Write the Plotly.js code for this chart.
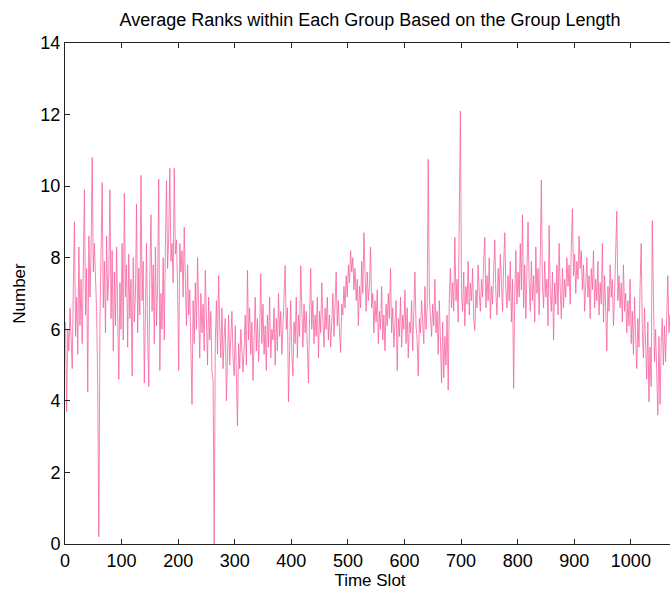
<!DOCTYPE html>
<html>
<head>
<meta charset="utf-8">
<script src="https://cdn.plot.ly/plotly-3.0.1.min.js"></script>
<style>
html,body{margin:0;padding:0;overflow:hidden;background:#fff;}
#chart{width:680px;height:593px;}
</style>
</head>
<body>
<div id="chart"></div>
<script>
// Time slots: first slot and spacing of the sampled series
const firstSlot = 1;
const slotStep = 1.96;

const ranks_0_99 = [6.2,3.7,6.0,5.4,6.6,5.6,4.9,7.2,9.0,5.8,6.9,5.3,8.3,6.1,7.4,5.6,8.0,9.9,6.4,7.7,4.25,8.6,6.9,8.2,10.8,7.6,8.4,7.4,6.5,4.4,0.2,6.2,8.7,10.1,6.6,7.9,5.9,8.6,6.8,7.5,9.9,6.3,8.2,5.4,7.6,6.1,8.3,6.7,4.6,7.3];
const ranks_100_199 = [6.0,8.4,5.7,9.8,6.9,7.8,5.5,8.1,6.3,7.4,4.7,8.0,6.2,7.0,9.5,5.9,7.7,6.4,10.3,6.8,7.9,4.5,6.9,8.4,5.8,4.4,7.6,9.2,6.5,7.8,5.6,8.3,6.1,7.3,10.2,4.85,7.0,6.0,8.0,5.7,8.3,10.15,7.7,8.6,10.5,7.9,8.4,7.3,10.5,8.1];
const ranks_200_299 = [8.5,7.2,4.85,8.4,7.6,8.2,6.9,8.85,7.4,6.1,7.8,6.4,7.1,5.5,3.9,6.8,5.6,7.3,6.0,8.0,6.6,5.2,7.0,5.9,6.7,5.4,7.65,6.2,5.0,6.9,5.7,6.5,4.8,4.6,0.0,5.6,6.8,5.3,7.5,6.1,5.2,6.6,4.9,5.8,6.3,4.0,5.5,6.4,5.0,5.9];
const ranks_300_399 = [6.5,5.2,4.7,6.1,5.0,3.3,5.6,4.9,6.0,5.1,4.8,5.5,6.4,5.0,7.65,5.7,6.6,5.3,6.2,4.57,5.8,6.9,5.4,6.3,5.1,6.0,7.55,5.6,6.7,5.3,6.1,4.85,6.4,5.5,6.9,5.2,6.0,5.7,6.6,5.0,6.3,5.4,7.0,5.8,6.5,5.3,6.1,6.8,7.78,6.0];
const ranks_400_499 = [6.6,3.97,5.9,6.8,5.3,4.7,6.2,5.6,6.9,5.2,6.4,5.8,7.78,6.1,5.5,6.7,5.9,6.5,5.1,4.5,6.3,7.7,6.0,6.8,5.6,6.4,5.8,6.9,5.2,6.5,5.9,7.3,6.3,5.5,6.6,6.0,6.9,5.7,6.4,5.5,6.2,7.0,5.8,6.5,7.6,6.1,6.8,5.9,5.35,6.7];
const ranks_500_599 = [6.4,7.2,6.6,7.5,6.9,7.8,7.3,8.2,7.6,8.0,7.1,7.7,6.8,7.4,6.1,7.2,6.6,7.9,7.0,8.7,7.3,6.5,7.6,6.8,7.2,8.3,6.6,7.0,5.9,6.8,6.2,7.1,5.6,6.5,6.0,7.2,5.7,6.4,5.4,6.7,6.1,7.0,6.3,7.7,5.9,6.6,5.5,6.2,6.8,4.85];
const ranks_600_699 = [6.3,5.8,6.9,5.5,6.4,6.0,7.1,5.6,6.6,5.2,6.2,5.9,6.8,5.4,6.5,7.6,6.1,5.7,4.7,6.3,5.9,6.8,6.2,5.6,7.2,6.0,6.6,10.75,6.9,6.4,5.8,6.7,6.1,7.4,5.9,6.5,5.3,6.8,5.6,4.5,6.2,4.65,5.8,5.0,6.4,4.3,6.9,7.7,6.6,7.3];
const ranks_700_799 = [6.5,8.57,6.8,7.4,6.2,10.4,12.1,7.0,6.5,7.6,6.1,7.2,6.7,7.9,6.4,7.3,6.8,7.7,6.3,5.97,7.1,6.6,7.8,7.0,6.5,7.4,6.9,7.9,8.57,6.6,7.5,6.8,8.0,6.3,7.2,6.7,7.6,8.5,7.0,6.4,7.7,6.9,8.1,7.2,6.5,7.8,8.7,7.1,6.6,7.5];
const ranks_800_899 = [6.8,7.9,6.2,7.4,4.35,7.0,8.2,6.7,7.6,6.9,8.4,7.1,9.2,6.6,7.8,6.3,8.1,9.0,7.3,6.5,7.9,6.8,7.5,6.2,8.3,7.0,7.7,6.4,8.0,10.17,7.2,6.6,7.9,6.9,7.4,6.1,8.9,7.0,6.5,7.6,5.7,7.3,6.7,7.8,6.4,8.4,7.1,6.3,7.7,6.6];
const ranks_900_999 = [7.4,6.9,8.0,7.2,7.8,6.7,8.3,9.37,7.5,8.1,7.0,7.9,7.4,8.6,7.7,8.2,7.1,7.8,6.5,7.6,8.0,6.9,7.5,6.3,7.7,7.1,8.2,6.6,7.4,6.8,7.9,6.4,7.3,6.7,8.4,6.2,7.5,6.6,5.4,7.2,6.5,7.8,6.9,7.4,6.1,7.0,8.0,9.3,6.8,7.5];
const ranks_1000_1099 = [6.6,7.3,6.2,7.8,6.5,7.0,5.9,6.8,6.1,7.4,5.6,6.5,5.3,6.9,5.8,4.9,6.3,5.5,7.2,8.4,6.0,5.2,6.6,5.7,4.6,6.2,3.97,5.5,4.4,9.03,6.4,5.1,6.0,4.5,3.6,5.8,3.9,5.6,6.3,5.0,6.1,5.1,6.6,7.5,5.9,6.4,5.5,6.8,6.0,6.5];

// Tick values
const xTicks = [0,100,200,300,400,500,600,700,800,900,1000];
const yTicks = [0,2,4,6,8,10,12,14];

const rankValues = [].concat(ranks_0_99, ranks_100_199, ranks_200_299, ranks_300_399,
  ranks_400_499, ranks_500_599, ranks_600_699, ranks_700_799, ranks_800_899,
  ranks_900_999, ranks_1000_1099);
const timeSlots = rankValues.map((_, i) => firstSlot + i * slotStep);

const font = 'Liberation Sans, Arial, Helvetica, sans-serif';

Plotly.newPlot('chart', [{
  x: timeSlots,
  y: rankValues,
  type: 'scatter',
  mode: 'lines',
  line: {color: '#f7629f', width: 0.8},
  hoverinfo: 'skip'
}], {
  width: 680,
  height: 593,
  margin: {l: 65, r: 5, t: 43, b: 49},
  paper_bgcolor: '#fff',
  plot_bgcolor: '#fff',
  showlegend: false,
  title: {
    text: 'Average Ranks within Each Group Based on the Group Length',
    font: {family: font, size: 18, color: '#000'},
    x: 0.5, xref: 'paper', xanchor: 'center',
    y: 0.966, yref: 'container', yanchor: 'middle'
  },
  xaxis: {
    range: [0, 1078],
    tickvals: xTicks,
    ticktext: xTicks.map(String),
    ticks: 'inside', ticklen: 5, tickcolor: '#222', tickwidth: 1,
    showline: true, linecolor: '#222', linewidth: 1, mirror: 'ticks',
    showgrid: false, zeroline: false,
    tickfont: {family: font, size: 18, color: '#000'},
    title: {text: 'Time Slot', font: {family: font, size: 17, color: '#000'}, standoff: 4}
  },
  yaxis: {
    range: [0, 14],
    tickvals: yTicks,
    ticktext: yTicks.map(String),
    ticks: 'inside', ticklen: 5, tickcolor: '#222', tickwidth: 1,
    showline: true, linecolor: '#222', linewidth: 1, mirror: 'ticks',
    showgrid: false, zeroline: false,
    tickfont: {family: font, size: 18, color: '#000'},
    title: {text: 'Number', font: {family: font, size: 17, color: '#000'}, standoff: 10}
  }
}, {displayModeBar: false, staticPlot: true});
</script>
</body>
</html>
